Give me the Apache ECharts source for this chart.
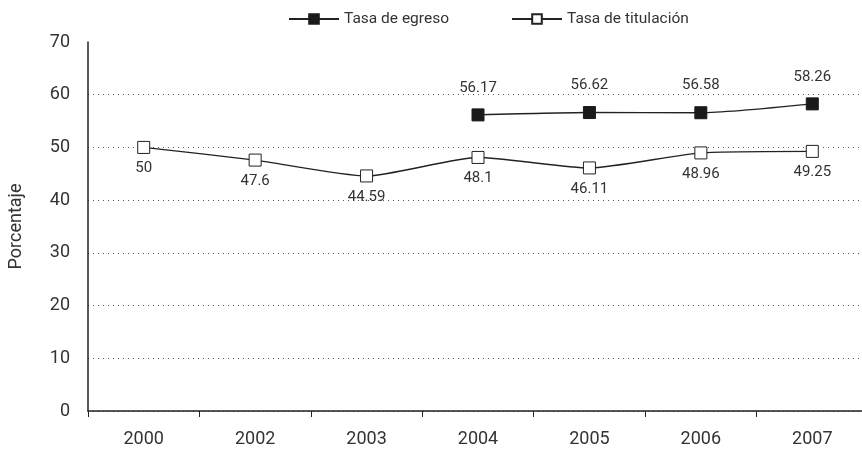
<!DOCTYPE html>
<html>
<head>
<meta charset="utf-8">
<script src="https://cdn.jsdelivr.net/npm/echarts@6/dist/echarts.min.js"></script>
<style>
  html, body { margin: 0; padding: 0; background: #fff; }
  #chart { width: 862px; height: 451px; }
</style>
</head>
<body>
<div id="chart"></div>
<script>
const years = ['2000', '2002', '2003', '2004', '2005', '2006', '2007'];
const egreso = [null, null, null, 56.17, 56.62, 56.58, 58.26];
const titulacion = [50, 47.6, 44.59, 48.1, 46.11, 48.96, 49.25];

const font = 'Roboto';
const ink = '#222';
const txt = '#333';

const chart = echarts.init(document.getElementById('chart'));
chart.setOption({
  animation: false,
  textStyle: { fontFamily: font },
  legend: {
    top: 6,
    left: 283,
    itemGap: 62,
    itemWidth: 50,
    itemHeight: 12,
    textStyle: { fontSize: 15.5, color: txt, fontFamily: font },
    data: ['Tasa de egreso', 'Tasa de titulación']
  },
  grid: { left: 88, right: -6, top: 42, bottom: 40, outerBoundsMode: 'none' },
  xAxis: {
    type: 'category',
    data: years,
    boundaryGap: true,
    axisLine: { lineStyle: { color: ink, width: 1.5 } },
    axisTick: { show: true, length: 6, lineStyle: { color: ink } },
    axisLabel: { fontSize: 18, color: txt, margin: 19, fontFamily: font }
  },
  yAxis: {
    type: 'value',
    min: 0,
    max: 70,
    interval: 10,
    name: 'Porcentaje',
    nameLocation: 'middle',
    nameGap: 63,
    nameTextStyle: { fontSize: 18, color: txt, fontFamily: font },
    axisLine: { show: true, lineStyle: { color: ink, width: 1.5 } },
    axisTick: { show: false },
    axisLabel: { fontSize: 18, color: txt, margin: 18, fontFamily: font },
    splitLine: {
      show: true,
      showMaxLine: false,
      lineStyle: { color: '#555', type: [1, 4], width: 1 }
    }
  },
  series: [
    {
      name: 'Tasa de egreso',
      type: 'line',
      data: egreso,
      smooth: 0.2,
      symbol: 'rect',
      symbolSize: 12,
      lineStyle: { color: ink, width: 1.4 },
      itemStyle: { color: '#1a1a1a', borderColor: '#1a1a1a', borderWidth: 1 },
      label: {
        show: true,
        position: 'top',
        distance: 13,
        fontSize: 15,
        color: txt,
        fontFamily: font
      }
    },
    {
      name: 'Tasa de titulación',
      type: 'line',
      data: titulacion,
      smooth: 0.2,
      symbol: 'rect',
      symbolSize: 12,
      lineStyle: { color: ink, width: 1.4 },
      itemStyle: { color: '#fff', borderColor: ink, borderWidth: 1 },
      label: {
        show: true,
        position: 'bottom',
        distance: 7,
        fontSize: 15,
        color: txt,
        fontFamily: font
      }
    }
  ]
});
</script>
</body>
</html>
